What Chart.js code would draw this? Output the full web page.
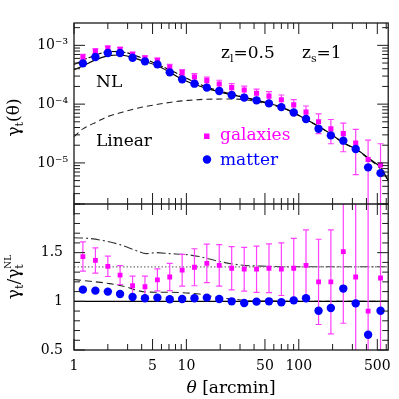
<!DOCTYPE html>
<html>
<head>
<meta charset="utf-8">
<script src="https://cdn.jsdelivr.net/npm/chart.js@4"></script>
<style>
  html, body { margin: 0; padding: 0; background: #fff; }
</style>
</head>
<body>
<canvas id="chart" width="399" height="399"></canvas>
<script>
// ---- data ----
const theta = [1.20, 1.55, 2.00, 2.57, 3.32, 4.28, 5.52, 7.11, 9.17, 11.8, 15.2, 19.6, 25.3,
               32.7, 42.1, 54.3, 70.0, 90.2, 116, 150, 193, 249, 321, 414, 534];

const galaxies = [6.33e-4, 8.0e-4, 9.0e-4, 8.55e-4, 7.03e-4, 6.08e-4, 5.56e-4, 4.28e-4, 3.43e-4,
                  2.89e-4, 2.51e-4, 2.20e-4, 1.91e-4, 1.74e-4, 1.53e-4, 1.37e-4, 1.19e-4, 9.7e-5,
                  7.3e-5, 5.0e-5, 3.8e-5, 3.15e-5, 2.18e-5, 1.14e-5, 9.2e-6];
const galaxiesErr = [6.7e-5, 7.3e-5, 6.9e-5, 6.6e-5, 6.2e-5, 5.7e-5, 5.1e-5, 4.9e-5, 4.3e-5,
                     4.1e-5, 3.6e-5, 3.5e-5, 3.2e-5, 2.9e-5, 2.7e-5, 2.6e-5, 2.4e-5, 2.2e-5,
                     2.0e-5, 1.84e-5, 1.68e-5, 1.6e-5, 1.55e-5, 1.3e-5, 1.2e-5];
const matter = [4.94e-4, 6.33e-4, 7.40e-4, 7.40e-4, 6.17e-4, 5.34e-4, 4.75e-4, 3.47e-4, 2.64e-4,
                2.23e-4, 1.91e-4, 1.67e-4, 1.43e-4, 1.29e-4, 1.16e-4, 1.03e-4, 8.9e-5, 7.2e-5,
                5.6e-5, 3.8e-5, 2.94e-5, 2.39e-5, 1.72e-5, 8.4e-6, 6.7e-6];

const ratioGalaxies = [1.46, 1.42, 1.36, 1.27, 1.16, 1.15, 1.22, 1.25, 1.32, 1.35, 1.39, 1.37, 1.34,
                       1.33, 1.33, 1.34, 1.33, 1.34, 1.37, 1.20, 1.20, 1.51, 1.25, 0.90, 1.24];
const ratioGalaxiesErr = [0.15, 0.13, 0.105, 0.097, 0.10, 0.108, 0.113, 0.141, 0.163, 0.19, 0.197,
                          0.213, 0.222, 0.225, 0.237, 0.25, 0.27, 0.306, 0.364, 0.438, 0.534,
                          0.735, 0.9, 1.3, 1.2];
const ratioMatter = [1.12, 1.11, 1.10, 1.075, 1.044, 1.031, 1.038, 1.021, 1.024, 1.031, 1.038,
                     1.024, 1.0, 0.983, 0.997, 1.0, 0.99, 1.01, 1.031, 0.904, 0.931, 1.131,
                     0.979, 0.657, 0.904];

// model curves
const nlTheta = [1, 1.2, 1.55, 2.0, 2.57, 3.32, 4.28, 5.52, 7.11, 9.17, 11.8, 15.2, 19.6, 25.3,
                 32.7, 42.1, 54.3, 70, 90, 116, 150, 193, 249, 321, 414, 534, 625];
const nlValues = [3.85e-4, 4.45e-4, 5.65e-4, 6.6e-4, 6.85e-4, 6.2e-4, 5.3e-4, 4.5e-4, 3.5e-4,
                  2.65e-4, 2.18e-4, 1.85e-4, 1.62e-4, 1.44e-4, 1.3e-4, 1.16e-4, 1.03e-4, 8.9e-5,
                  7.2e-5, 5.5e-5, 4.2e-5, 3.1e-5, 2.2e-5, 1.74e-5, 1.22e-5, 8.3e-6, 5.1e-6];
const nlDashTheta = [1, 1.39, 2.08, 2.94, 3.61, 4.43, 7.07, 13, 19.6, 29.4, 50];
const nlDashValues = [4.71e-4, 6.27e-4, 7.85e-4, 7.5e-4, 6.57e-4, 5.7e-4, 3.85e-4, 2.2e-4,
                      1.68e-4, 1.38e-4, 1.06e-4];
const linTheta = [1, 1.21, 1.48, 1.95, 2.73, 3.84, 5.39, 7.57, 10.6, 14.9, 22.4, 32.7, 42.1,
                  54.3, 70, 90, 116, 150, 193, 249, 321, 414, 534, 625];
const linValues = [2.8e-5, 3.83e-5, 4.66e-5, 6.04e-5, 7.35e-5, 8.7e-5, 9.8e-5, 1.09e-4, 1.16e-4,
                   1.21e-4, 1.22e-4, 1.2e-4, 1.1e-4, 1.0e-4, 8.7e-5, 7.1e-5, 5.45e-5, 4.15e-5,
                   3.08e-5, 2.18e-5, 1.7e-5, 1.19e-5, 7.9e-6, 5.0e-6];

const upperTheta = [1, 1.4, 1.9, 2.6, 3.6, 4.4, 5.4, 7.1, 10, 13, 19.6, 29.4, 51, 100, 625];
const upperRatio = [1.653, 1.645, 1.62, 1.58, 1.52, 1.49, 1.50, 1.49, 1.48, 1.46, 1.41, 1.375,
                    1.36, 1.355, 1.355];
const lowerTheta = [1, 1.39, 2.08, 2.94, 3.61, 4.43, 7.07, 13, 19.6, 29.4, 40, 625];
const lowerRatio = [1.224, 1.206, 1.182, 1.147, 1.113, 1.096, 1.093, 1.075, 1.038, 1.017, 1.003, 1.0];
const biasLevel = 1.354;

const xTicks = [1, 5, 10, 50, 100, 500];
const yTopTicks = [1e-5, 1e-4, 1e-3];
const yBotTicks = [0.5, 1, 1.5];

// ---- helpers ----
const FONT = '"DejaVu Serif", "Liberation Serif", serif';
const MAGENTA = '#ff00ff';
const PINK = '#ff40ff';
const BLUE = '#0000ff';

function pts(xs, ys) {
  return xs.map((x, i) => ({ x: x, y: ys[i] }));
}

const sup = { '-': '\u207b', '0': '\u2070', '1': '\u00b9', '2': '\u00b2', '3': '\u00b3',
              '4': '\u2074', '5': '\u2075', '6': '\u2076', '7': '\u2077', '8': '\u2078', '9': '\u2079' };

function powLabel(v) {
  const e = Math.round(Math.log10(v));
  return '10' + String(e).split('').map(c => sup[c]).join('');
}

function runsWidth(ctx, runs) {
  let w = 0;
  for (const r of runs) {
    ctx.font = (r.italic ? 'italic ' : '') + r.size + 'px ' + FONT;
    w += ctx.measureText(r.t).width;
  }
  return w;
}

function drawRuns(ctx, x, y, runs) {
  for (const r of runs) {
    ctx.font = (r.italic ? 'italic ' : '') + r.size + 'px ' + FONT;
    ctx.fillText(r.t, x, y + (r.dy || 0));
    x += ctx.measureText(r.t).width;
  }
  return x;
}

// error bars, drawn just before their dataset so the points sit on top
const errorBars = {
  id: 'errorBars',
  beforeDatasetDraw(chart, args) {
    const ds = chart.data.datasets[args.index];
    if (!ds.errors) return;
    const ctx = chart.ctx;
    const xs = chart.scales.x;
    const ys = chart.scales[ds.yAxisID];
    ctx.save();
    ctx.beginPath();
    ctx.rect(xs.left, ys.top, xs.right - xs.left, ys.bottom - ys.top);
    ctx.clip();
    ctx.strokeStyle = PINK;
    ctx.lineWidth = 1.2;
    ds.data.forEach((p, i) => {
      const px = xs.getPixelForValue(p.x);
      const hi = p.y + ds.errors[i];
      const lo = p.y - ds.errors[i];
      const yHi = ys.getPixelForValue(hi);
      const yLo = lo > 0 ? ys.getPixelForValue(lo) : ys.bottom + 20;
      ctx.beginPath();
      ctx.moveTo(px, yHi);
      ctx.lineTo(px, yLo);
      ctx.moveTo(px - 3, yHi);
      ctx.lineTo(px + 3, yHi);
      ctx.moveTo(px - 3, yLo);
      ctx.lineTo(px + 3, yLo);
      ctx.stroke();
    });
    ctx.restore();
  }
};

// frame, inward ticks, labels, titles and legend
const decorations = {
  id: 'decorations',
  afterDraw(chart) {
    const ctx = chart.ctx;
    const xs = chart.scales.x, yt = chart.scales.yTop, yb = chart.scales.yBot;
    const L = xs.left, R = xs.right;
    const mid = yb.top;
    ctx.save();
    ctx.strokeStyle = '#1a1a1a';
    ctx.lineWidth = 1.3;
    ctx.strokeRect(L, yt.top, R - L, yb.bottom - yt.top);
    ctx.beginPath();
    ctx.moveTo(L, mid);
    ctx.lineTo(R, mid);
    ctx.stroke();

    ctx.lineWidth = 1;
    const MAJ = 11, MIN = 6;
    const tick = (x1, y1, x2, y2) => { ctx.moveTo(x1, y1); ctx.lineTo(x2, y2); };
    ctx.beginPath();
    // x ticks on the four horizontal edges
    for (let d = 1; d <= 100; d *= 10) {
      for (let m = 1; m <= 9; m++) {
        const v = m * d;
        if (v > xs.max) continue;
        const px = xs.getPixelForValue(v);
        const len = xTicks.includes(v) ? MAJ : MIN;
        tick(px, yt.top, px, yt.top + len);
        tick(px, mid, px, mid - len);
        tick(px, mid, px, mid + len);
        tick(px, yb.bottom, px, yb.bottom - len);
      }
    }
    // top panel y ticks
    for (let d = 1e-6; d < 1e-2; d *= 10) {
      for (let m = 1; m <= 9; m++) {
        const v = m * d;
        if (v < yt.min || v > yt.max) continue;
        const py = yt.getPixelForValue(v);
        const len = m === 1 ? MAJ : MIN;
        tick(L, py, L + len, py);
        tick(R, py, R - len, py);
      }
    }
    // bottom panel y ticks
    for (let k = 5; k <= 20; k++) {
      const py = yb.getPixelForValue(k / 10);
      const len = k % 5 === 0 ? MAJ : MIN;
      tick(L, py, L + len, py);
      tick(R, py, R - len, py);
    }
    ctx.stroke();

    // text
    ctx.fillStyle = '#000';
    ctx.textBaseline = 'alphabetic';
    ctx.textAlign = 'left';
    drawRuns(ctx, 221, 58, [
      { t: 'z', size: 17 }, { t: 'l', size: 11, dy: 4 }, { t: '=0.5', size: 17 }
    ]);
    drawRuns(ctx, 302, 58, [
      { t: 'z', size: 17 }, { t: 's', size: 11, dy: 4 }, { t: '=1', size: 17 }
    ]);
    drawRuns(ctx, 96, 87, [{ t: 'NL', size: 17 }]);
    drawRuns(ctx, 96, 146, [{ t: 'Linear', size: 17 }]);

    // legend
    ctx.fillStyle = MAGENTA;
    ctx.fillRect(204, 133.5, 5.5, 5.5);
    drawRuns(ctx, 220, 140, [{ t: 'galaxies', size: 17 }]);
    ctx.fillStyle = BLUE;
    ctx.beginPath();
    ctx.arc(207, 159.5, 4.2, 0, Math.PI * 2);
    ctx.fill();
    drawRuns(ctx, 220, 165, [{ t: 'matter', size: 17 }]);

    // x title
    ctx.fillStyle = '#000';
    const xRuns = [{ t: '\u03b8', size: 17, italic: true }, { t: ' [arcmin]', size: 17 }];
    drawRuns(ctx, (L + R) / 2 - runsWidth(ctx, xRuns) / 2, 393, xRuns);

    // y titles (rotated)
    const topRuns = [{ t: '\u03b3', size: 17 }, { t: 't', size: 11, dy: 4 }, { t: '(\u03b8)', size: 17 }];
    ctx.save();
    ctx.translate(19, (yt.top + yt.bottom) / 2 + 4);
    ctx.rotate(-Math.PI / 2);
    drawRuns(ctx, -runsWidth(ctx, topRuns) / 2, 0, topRuns);
    ctx.restore();

    ctx.save();
    ctx.translate(19, (yb.top + yb.bottom) / 2);
    ctx.rotate(-Math.PI / 2);
    const a = [{ t: '\u03b3', size: 17 }, { t: 't', size: 11, dy: 4 }, { t: '/\u03b3', size: 17 }];
    const wa = runsWidth(ctx, a);
    ctx.font = '9px ' + FONT;
    const wNL = ctx.measureText('NL').width;
    const x0 = -(wa + wNL) / 2;
    const xe = drawRuns(ctx, x0, 0, a);
    drawRuns(ctx, xe, 0, [{ t: 't', size: 11, dy: 4 }]);
    drawRuns(ctx, xe, 0, [{ t: 'NL', size: 9, dy: -8 }]);
    ctx.restore();

    ctx.restore();
  }
};

const noPoint = { pointRadius: 0, pointHoverRadius: 0 };

new Chart(document.getElementById('chart'), {
  type: 'scatter',
  data: {
    datasets: [
      // top panel
      { data: pts(theta, matter), yAxisID: 'yTop', order: 0, pointStyle: 'circle',
        pointRadius: 4.2, backgroundColor: BLUE, borderColor: BLUE, borderWidth: 0 },
      { data: pts(theta, galaxies), errors: galaxiesErr, yAxisID: 'yTop', order: 1, pointStyle: 'rect',
        pointRadius: 3.6, backgroundColor: MAGENTA, borderColor: MAGENTA, borderWidth: 0 },
      { data: pts(nlTheta, nlValues), yAxisID: 'yTop', order: 3, showLine: true, ...noPoint,
        borderColor: '#000', borderWidth: 1.2, cubicInterpolationMode: 'monotone' },
      { data: pts(nlDashTheta, nlDashValues), yAxisID: 'yTop', order: 3, showLine: true, ...noPoint,
        borderColor: '#000', borderWidth: 1.1, borderDash: [6, 2], cubicInterpolationMode: 'monotone' },
      { data: pts(linTheta, linValues), yAxisID: 'yTop', order: 3, showLine: true, ...noPoint,
        borderColor: '#222', borderWidth: 1.1, borderDash: [6, 4], cubicInterpolationMode: 'monotone' },
      // bottom panel
      { data: pts(theta, ratioMatter), yAxisID: 'yBot', order: 0, pointStyle: 'circle',
        pointRadius: 4.2, backgroundColor: BLUE, borderColor: BLUE, borderWidth: 0 },
      { data: pts(theta, ratioGalaxies), errors: ratioGalaxiesErr, yAxisID: 'yBot', order: 1, pointStyle: 'rect',
        pointRadius: 3.4, backgroundColor: MAGENTA, borderColor: MAGENTA, borderWidth: 0 },
      { data: pts([1, 625], [1, 1]), yAxisID: 'yBot', order: 3, showLine: true, ...noPoint,
        borderColor: '#000', borderWidth: 1.3 },
      { data: pts([1, 625], [biasLevel, biasLevel]), yAxisID: 'yBot', order: 3, showLine: true, ...noPoint,
        borderColor: '#777', borderWidth: 1.3, borderDash: [1.5, 2] },
      { data: pts(upperTheta, upperRatio), yAxisID: 'yBot', order: 3, showLine: true, ...noPoint,
        borderColor: '#333', borderWidth: 1.1, borderDash: [9, 3, 2, 3], cubicInterpolationMode: 'monotone' },
      { data: pts(lowerTheta, lowerRatio), yAxisID: 'yBot', order: 3, showLine: true, ...noPoint,
        borderColor: '#222', borderWidth: 1.1, borderDash: [7, 4], cubicInterpolationMode: 'monotone' }
    ]
  },
  options: {
    responsive: false,
    animation: false,
    devicePixelRatio: 1,
    layout: { padding: { left: 0, top: 23, right: 9, bottom: 0 } },
    plugins: { legend: { display: false }, tooltip: { enabled: false } },
    scales: {
      x: {
        type: 'logarithmic', position: 'bottom', min: 1, max: 625, bounds: 'data',
        grid: { display: false, drawTicks: false }, border: { display: false },
        afterBuildTicks: s => { s.ticks = xTicks.map(v => ({ value: v })); },
        afterFit: s => { s.height = 49; },
        ticks: { autoSkip: false, maxRotation: 0, padding: 8, color: '#000',
                 font: { family: FONT, size: 14 }, callback: v => String(v) }
      },
      yBot: {
        type: 'linear', position: 'left', stack: 'panels', stackWeight: 146, min: 0.5, max: 2,
        grid: { display: false, drawTicks: false }, border: { display: false },
        afterBuildTicks: s => { s.ticks = yBotTicks.map(v => ({ value: v })); },
        afterFit: s => { s.width = 74; },
        ticks: { padding: 11, color: '#000', font: { family: FONT, size: 14 }, callback: v => String(v) }
      },
      yTop: {
        type: 'logarithmic', position: 'left', stack: 'panels', stackWeight: 181, min: 2e-6, max: 2.4e-3,
        bounds: 'data',
        grid: { display: false, drawTicks: false }, border: { display: false },
        afterBuildTicks: s => { s.ticks = yTopTicks.map(v => ({ value: v })); },
        afterFit: s => { s.width = 74; },
        ticks: { padding: 6, color: '#000', font: { family: FONT, size: 14 }, callback: v => powLabel(v) }
      }
    }
  },
  plugins: [errorBars, decorations]
});
</script>
</body>
</html>
